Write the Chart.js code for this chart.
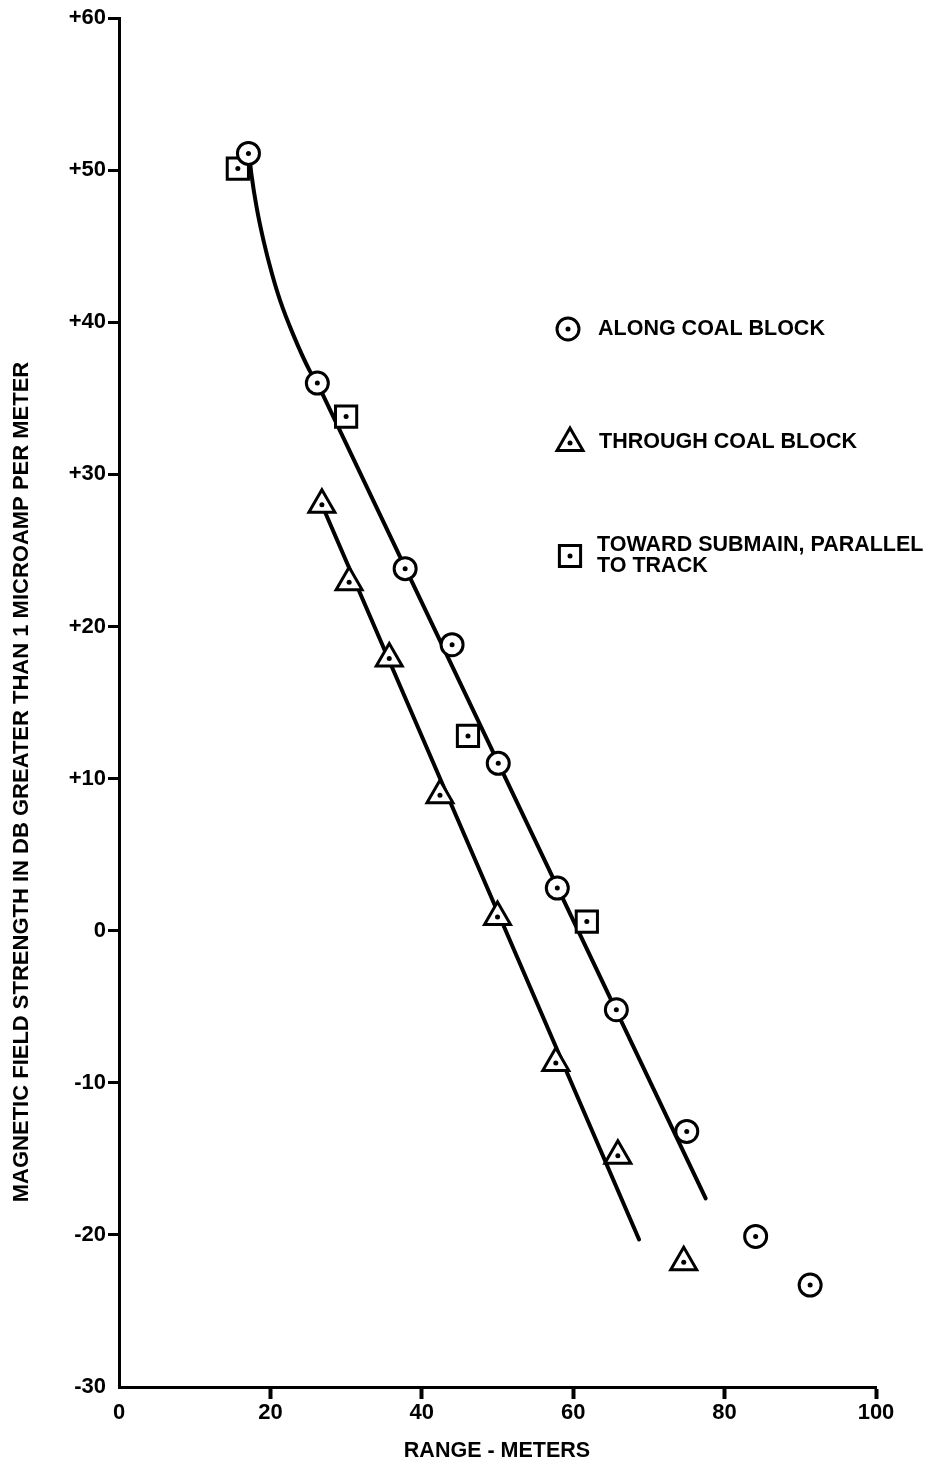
<!DOCTYPE html>
<html>
<head>
<meta charset="utf-8">
<script src="https://cdn.jsdelivr.net/npm/chart.js@4/dist/chart.umd.min.js"></script>
<style>
  html, body { margin: 0; padding: 0; background: #fff; }
  canvas { display: block; }
</style>
</head>
<body>
<canvas id="c" width="928" height="1476" style="width:928px;height:1476px"></canvas>
<script>
// ---- data ----
const alongX  = [17.1, 26.2, 37.8, 44.0, 50.1, 57.9, 65.7, 75.0, 84.1, 91.3];
const alongY  = [51.1, 36.0, 23.8, 18.8, 11.0, 2.8, -5.2, -13.2, -20.1, -23.3];
const throughX = [26.8, 30.4, 35.7, 42.4, 50.0, 57.7, 65.9, 74.6];
const throughY = [28.0, 22.9, 17.9, 8.9, 0.9, -8.7, -14.8, -21.8];
const towardX = [15.7, 30.0, 46.1, 61.8];
const towardY = [50.1, 33.8, 12.8, 0.6];
// fitted curves drawn in the figure
const upperCurveX = [17.2, 17.5, 18.2, 19.1, 20.2, 21.3, 23.0, 25.2, 26.2];
const upperCurveY = [51.0, 49.7, 47.5, 45.35, 43.2, 41.4, 39.2, 36.8, 36.0];
const upperLineX = [26.2, 77.5];
const upperLineY = [36.0, -17.6];
const lowerLineX = [26.8, 68.7];
const lowerLineY = [28.0, -20.3];
// axes
const xTicks = [0, 20, 40, 60, 80, 100];
const xTickLabels = ['0', '20', '40', '60', '80', '100'];
const yTicks = [60, 50, 40, 30, 20, 10, 0, -10, -20, -30];
const yTickLabels = ['+60', '+50', '+40', '+30', '+20', '+10', '0', '-10', '-20', '-30'];
const seriesNames = ['ALONG COAL BLOCK', 'THROUGH COAL BLOCK', ['TOWARD SUBMAIN, PARALLEL', 'TO TRACK']];
const xTitle = 'RANGE - METERS';
const yTitle = 'MAGNETIC FIELD STRENGTH IN DB GREATER THAN 1 MICROAMP PER METER';

const pts = (xs, ys) => xs.map((x, i) => ({ x: x, y: ys[i] }));
const FONT = '"Liberation Sans", Arial, Helvetica, sans-serif';

const markerDs = (label, xs, ys, style, r) => ({
  label: label, data: pts(xs, ys), pointStyle: style, pointRadius: r,
  backgroundColor: '#fff', borderColor: '#000', pointBorderWidth: 3, borderWidth: 3,
  showLine: false, order: 2
});
const dotDs = (xs, ys) => ({
  label: 'dot', data: pts(xs, ys), pointStyle: 'circle', pointRadius: 2.5,
  backgroundColor: '#000', borderColor: '#000', pointBorderWidth: 0, borderWidth: 0,
  showLine: false, order: 1
});
const lineDs = (xs, ys, curved) => ({
  label: 'fit', data: pts(xs, ys), showLine: true, pointRadius: 0,
  borderColor: '#000', borderWidth: 4, backgroundColor: '#000',
  cubicInterpolationMode: curved ? 'monotone' : 'default', tension: 0,
  borderCapStyle: 'round', order: 3
});

// custom legend / axis-title drawing
const decor = {
  id: 'decor',
  afterDraw(chart) {
    const c = chart.ctx;
    c.save();
    c.fillStyle = '#000';
    c.strokeStyle = '#000';
    // axis titles
    c.font = 'bold 21.5px ' + FONT;
    c.textAlign = 'center';
    c.textBaseline = 'middle';
    c.fillText(xTitle, 497, 1451);
    c.save();
    c.translate(22, 782);
    c.rotate(-Math.PI / 2);
    c.font = 'bold 22px ' + FONT;
    c.fillText(yTitle, 0, 0);
    c.restore();
    // legend markers
    c.lineWidth = 3;
    const dot = (x, y) => { c.beginPath(); c.arc(x, y, 2.5, 0, Math.PI * 2); c.fillStyle = '#000'; c.fill(); };
    // circle
    c.beginPath(); c.arc(568, 329, 11, 0, Math.PI * 2); c.fillStyle = '#fff'; c.fill(); c.stroke(); dot(568, 329);
    // triangle
    { const x = 570, y = 443, r = 15; let a = 0; c.beginPath();
      c.moveTo(x + Math.sin(a) * r, y - Math.cos(a) * r); a += 2 * Math.PI / 3;
      c.lineTo(x + Math.sin(a) * r, y - Math.cos(a) * r); a += 2 * Math.PI / 3;
      c.lineTo(x + Math.sin(a) * r, y - Math.cos(a) * r); c.closePath();
      c.fillStyle = '#fff'; c.fill(); c.stroke(); dot(x, y); }
    // square
    { const x = 570, y = 556, h = 10.6; c.beginPath(); c.rect(x - h, y - h, 2 * h, 2 * h);
      c.fillStyle = '#fff'; c.fill(); c.stroke(); dot(x, y); }
    // legend texts
    c.fillStyle = '#000';
    c.font = 'bold 21.5px ' + FONT;
    c.textAlign = 'left';
    c.textBaseline = 'middle';
    c.fillText(seriesNames[0], 598, 329);
    c.fillText(seriesNames[1], 599, 442);
    c.fillText(seriesNames[2][0], 597, 545);
    c.fillText(seriesNames[2][1], 597, 566);
    c.restore();
  }
};

new Chart(document.getElementById('c'), {
  type: 'scatter',
  data: {
    datasets: [
      dotDs(alongX, alongY),
      dotDs(throughX, throughY),
      dotDs(towardX, towardY),
      markerDs(seriesNames[0], alongX, alongY, 'circle', 11),
      markerDs(seriesNames[1], throughX, throughY, 'triangle', 15),
      markerDs(seriesNames[2].join(' '), towardX, towardY, 'rect', 15),
      lineDs(upperCurveX, upperCurveY, true),
      lineDs(upperLineX, upperLineY, false),
      lineDs(lowerLineX, lowerLineY, false)
    ]
  },
  options: {
    responsive: false,
    animation: false,
    layout: { padding: { top: 17, right: 52, bottom: 0, left: 0 } },
    plugins: { legend: { display: false }, tooltip: { enabled: false }, title: { display: false } },
    scales: {
      x: {
        type: 'linear', min: 0, max: 100,
        afterBuildTicks(s) { s.ticks = xTicks.map(v => ({ value: v })); },
        afterFit(s) { s.height = 1476 - 1387; },
        ticks: {
          color: '#000', font: { family: FONT, size: 22, weight: 'bold' }, padding: 1, maxRotation: 0,
          callback: (v) => { const i = xTicks.indexOf(v); return i >= 0 ? xTickLabels[i] : ''; }
        },
        grid: {
          drawOnChartArea: false, drawTicks: true, tickLength: 12, tickWidth: 4,
          tickColor: (ctx) => (ctx.tick && ctx.tick.value === 0) ? 'rgba(0,0,0,0)' : '#000'
        },
        border: { display: true, color: '#000', width: 3 }
      },
      y: {
        type: 'linear', min: -30, max: 60,
        afterBuildTicks(s) { s.ticks = yTicks.slice().reverse().map(v => ({ value: v })); },
        afterFit(s) { s.width = 119; },
        ticks: {
          color: '#000', font: { family: FONT, size: 22, weight: 'bold' }, padding: 2,
          callback: (v) => { const i = yTicks.indexOf(v); return i >= 0 ? yTickLabels[i] : ''; }
        },
        grid: {
          drawOnChartArea: false, drawTicks: true, tickLength: 11, tickWidth: 3,
          tickColor: (ctx) => (ctx.tick && ctx.tick.value === -30) ? 'rgba(0,0,0,0)' : '#000'
        },
        border: { display: true, color: '#000', width: 3 }
      }
    }
  },
  plugins: [decor]
});
</script>
</body>
</html>
